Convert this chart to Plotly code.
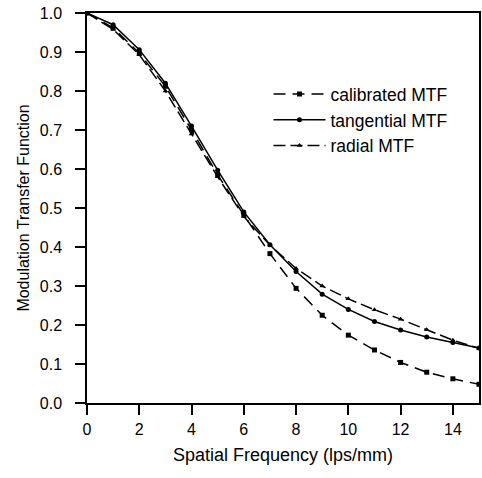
import plotly.graph_objects as go

freq = list(range(0, 16))
calibrated = [1.0, 0.962, 0.897, 0.812, 0.700, 0.585, 0.482, 0.383, 0.294, 0.225, 0.174, 0.136, 0.104, 0.079, 0.062, 0.048]
tangential = [1.0, 0.970, 0.906, 0.820, 0.710, 0.597, 0.490, 0.406, 0.337, 0.279, 0.240, 0.209, 0.187, 0.169, 0.155, 0.141]
radial = [1.0, 0.958, 0.893, 0.800, 0.690, 0.580, 0.478, 0.405, 0.345, 0.300, 0.267, 0.239, 0.215, 0.188, 0.161, 0.140]

x_ticks = [0, 2, 4, 6, 8, 10, 12, 14]
y_ticks = [0.0, 0.1, 0.2, 0.3, 0.4, 0.5, 0.6, 0.7, 0.8, 0.9, 1.0]

fig = go.Figure()
fig.add_trace(go.Scatter(x=freq, y=calibrated, name="calibrated MTF", mode="lines+markers",
                         line=dict(color="black", width=1.5, dash="12px,7px"),
                         marker=dict(symbol="square", size=5, color="black")))
fig.add_trace(go.Scatter(x=freq, y=tangential, name="tangential MTF", mode="lines+markers",
                         line=dict(color="black", width=1.5),
                         marker=dict(symbol="circle", size=5, color="black")))
fig.add_trace(go.Scatter(x=freq, y=radial, name="radial MTF", mode="lines+markers",
                         line=dict(color="black", width=1.5, dash="12px,5px"),
                         marker=dict(symbol="triangle-up", size=5, color="black")))

fam = "Liberation Sans, Arial, sans-serif"
tick_font = dict(family=fam, size=16, color="black")
fig.update_layout(
    width=482, height=478,
    margin=dict(l=87, r=1, t=13, b=75),
    paper_bgcolor="white", plot_bgcolor="white",
    font=dict(family=fam, size=16, color="black"),
    showlegend=True,
    legend=dict(x=0.463, y=0.838, xanchor="left", yanchor="top", itemwidth=52,
                bgcolor="rgba(0,0,0,0)", font=dict(family=fam, size=17.5, color="black"),
                tracegroupgap=0),
    xaxis=dict(range=[0, 15], tickvals=x_ticks, ticks="outside", ticklen=10, tickwidth=1.5,
               tickcolor="black", showline=True, linecolor="black", linewidth=1.5, mirror=True,
               showgrid=False, zeroline=False, tickfont=tick_font, ticklabelstandoff=1,
               ticklabeloverflow="allow",
               title=dict(text="Spatial Frequency (lps/mm)", font=dict(family=fam, size=18, color="black"),
                          standoff=11)),
    yaxis=dict(range=[0, 1.0], tickvals=y_ticks, tickformat=".1f", ticks="outside", ticklen=10,
               tickwidth=1.5, tickcolor="black", showline=True, linecolor="black", linewidth=1.5,
               mirror=True, showgrid=False, zeroline=False, tickfont=tick_font, ticklabelstandoff=10,
               ticklabeloverflow="allow",
               title=dict(text="Modulation Transfer Function", font=dict(family=fam, size=16, color="black"),
                          standoff=6)),
)
fig.write_html("out.html", config={"displayModeBar": False},
               post_script="document.body.style.margin='0';document.body.style.overflow='hidden';")
